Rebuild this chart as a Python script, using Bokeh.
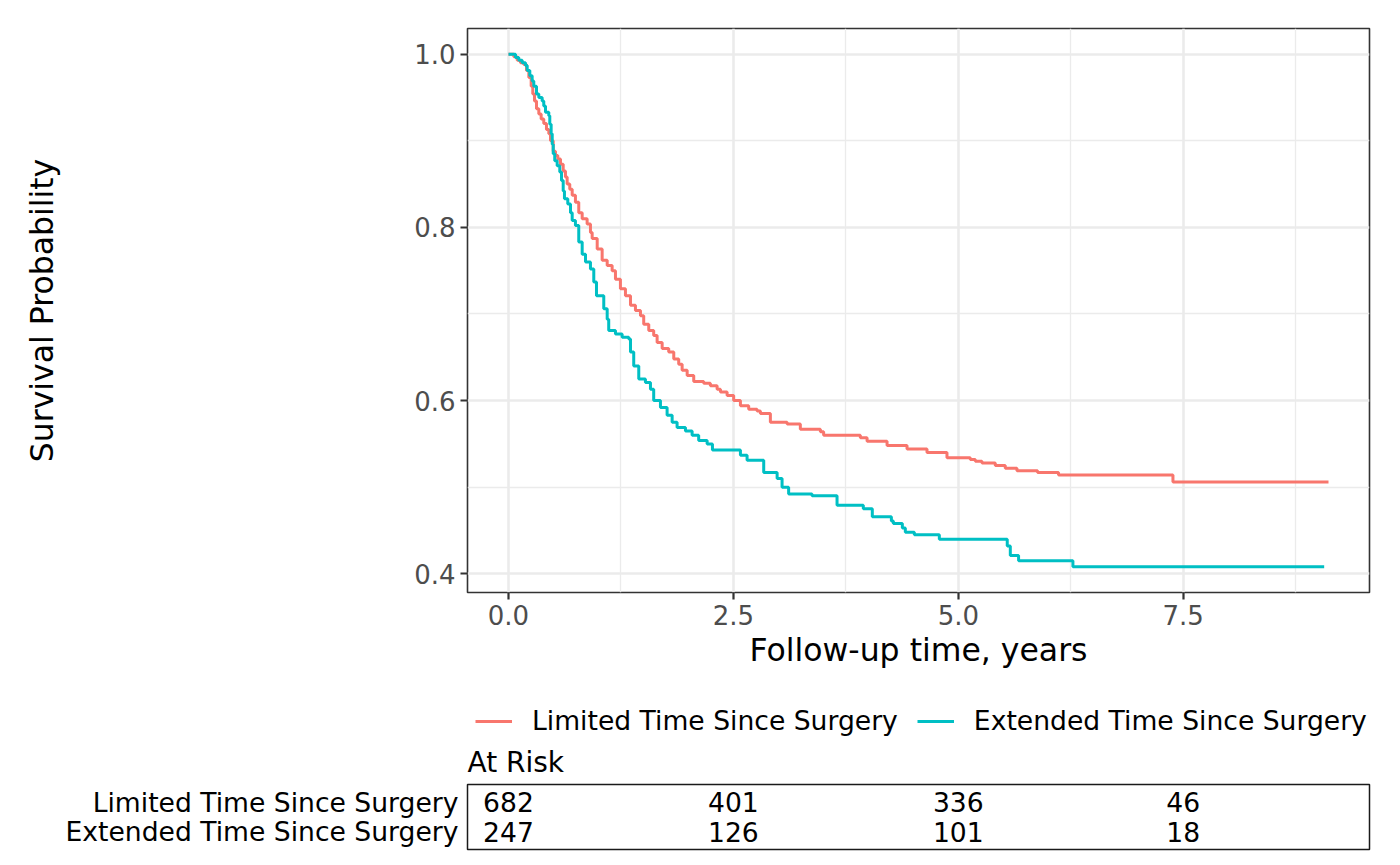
from bokeh.plotting import figure
from bokeh.models import (Range1d, FactorRange, FixedTicker, NumeralTickFormatter,
                          Legend, LegendItem, ColumnDataSource)
from bokeh.layouts import column
from bokeh.core.properties import value
from bokeh.embed import file_html
from bokeh.resources import INLINE

FONT = "DejaVu Sans"

# ---- Kaplan-Meier estimates (years, survival) ----
limited_time = [0.0, 0.059, 0.097, 0.133, 0.170, 0.200, 0.226, 0.252, 0.270, 0.289,
                0.311, 0.337, 0.363, 0.392, 0.422, 0.448, 0.467, 0.497, 0.522, 0.548,
                0.578, 0.608, 0.633, 0.652, 0.681, 0.708, 0.744, 0.781, 0.819, 0.874,
                0.911, 0.930, 0.986, 1.041, 1.097, 1.152, 1.189, 1.244, 1.300, 1.356,
                1.411, 1.467, 1.503, 1.559, 1.614, 1.652, 1.708, 1.781, 1.837, 1.892,
                1.930, 1.986, 2.059, 2.170, 2.244, 2.319, 2.356, 2.430, 2.503, 2.578,
                2.670, 2.763, 2.800, 2.911, 3.097, 3.244, 3.467, 3.503, 3.911, 3.986,
                4.208, 4.430, 4.652, 4.874, 5.133, 5.189, 5.263, 5.411, 5.522, 5.652,
                5.881, 6.114, 7.386, 9.115]
limited_surv = [1.000, 0.997, 0.993, 0.990, 0.988, 0.981, 0.973, 0.963, 0.954, 0.946,
                0.937, 0.931, 0.925, 0.920, 0.913, 0.908, 0.900, 0.888, 0.883, 0.879,
                0.873, 0.865, 0.858, 0.850, 0.844, 0.837, 0.829, 0.817, 0.810, 0.804,
                0.794, 0.787, 0.775, 0.762, 0.756, 0.750, 0.740, 0.729, 0.721, 0.710,
                0.704, 0.698, 0.688, 0.681, 0.675, 0.667, 0.660, 0.656, 0.648, 0.642,
                0.635, 0.629, 0.622, 0.620, 0.617, 0.613, 0.610, 0.606, 0.600, 0.594,
                0.590, 0.588, 0.585, 0.575, 0.573, 0.567, 0.564, 0.560, 0.557, 0.553,
                0.548, 0.544, 0.540, 0.534, 0.532, 0.530, 0.528, 0.525, 0.522, 0.519,
                0.517, 0.514, 0.506, 0.506]

extended_time = [0.0, 0.078, 0.114, 0.152, 0.189, 0.208, 0.237, 0.263, 0.281, 0.311,
                 0.337, 0.374, 0.392, 0.411, 0.448, 0.459, 0.474, 0.486, 0.497, 0.514,
                 0.541, 0.570, 0.589, 0.608, 0.622, 0.659, 0.689, 0.708, 0.744, 0.781,
                 0.819, 0.856, 0.911, 0.948, 0.978, 1.059, 1.097, 1.114, 1.189, 1.263,
                 1.337, 1.356, 1.392, 1.448, 1.522, 1.578, 1.614, 1.689, 1.763, 1.819,
                 1.874, 1.967, 2.041, 2.114, 2.208, 2.267, 2.578, 2.652, 2.837, 2.986,
                 3.041, 3.114, 3.374, 3.652, 3.944, 4.044, 4.256, 4.278, 4.378, 4.411,
                 4.511, 4.789, 5.544, 5.578, 5.670, 6.274, 9.067]
extended_surv = [1.000, 0.996, 0.993, 0.990, 0.987, 0.981, 0.975, 0.969, 0.963, 0.954,
                 0.950, 0.946, 0.940, 0.933, 0.929, 0.919, 0.908, 0.896, 0.885, 0.877,
                 0.871, 0.864, 0.854, 0.842, 0.833, 0.827, 0.817, 0.808, 0.802, 0.783,
                 0.769, 0.760, 0.752, 0.737, 0.721, 0.706, 0.694, 0.681, 0.677, 0.673,
                 0.671, 0.656, 0.640, 0.625, 0.621, 0.613, 0.600, 0.592, 0.583, 0.575,
                 0.569, 0.565, 0.560, 0.554, 0.550, 0.543, 0.537, 0.531, 0.517, 0.510,
                 0.500, 0.492, 0.490, 0.479, 0.475, 0.466, 0.461, 0.458, 0.453, 0.448,
                 0.445, 0.440, 0.432, 0.421, 0.415, 0.408, 0.408]

groups = ["Limited Time Since Surgery", "Extended Time Since Surgery"]
colors = ["#F8766D", "#00BFC4"]

# ---- risk table ----
risk_times = [0.0, 2.5, 5.0, 7.5]
limited_at_risk = [682, 401, 336, 46]
extended_at_risk = [247, 126, 101, 18]

# ---- axes ----
x_ticks = [0.0, 2.5, 5.0, 7.5]
x_minor = [1.25, 3.75, 6.25, 8.75]
y_ticks = [0.4, 0.6, 0.8, 1.0]
y_minor = [0.5, 0.7, 0.9]
x_title = "Follow-up time, years"
y_title = "Survival Probability"
table_title = "At Risk"

# ggplot-like 5% expansion of the data range
xmax = max(max(limited_time), max(extended_time))
xmin = 0.0
xpad = 0.05 * (xmax - xmin)
ymin = min(min(limited_surv), min(extended_surv))
ymax = max(max(limited_surv), max(extended_surv))
ypad = 0.05 * (ymax - ymin)
xr = Range1d(xmin - xpad, xmax + xpad)
yr = Range1d(ymin - ypad, ymax + ypad)

W = 1392
LEFT = 467
RIGHT = 23
TICK_FS = "26px"
TEXT_FS = "26.6px"

# ================= main survival plot =================
p1 = figure(width=W, height=680, x_range=xr, y_range=yr,
            output_backend="svg", toolbar_location=None, title_location=None,
            min_border_left=LEFT, min_border_right=RIGHT,
            min_border_top=28, min_border_bottom=88)
p1.background_fill_color = "white"
p1.border_fill_color = "white"
p1.outline_line_color = "#333333"
p1.outline_line_width = 1.6

p1.xaxis.ticker = FixedTicker(ticks=x_ticks, minor_ticks=x_minor)
p1.yaxis.ticker = FixedTicker(ticks=y_ticks, minor_ticks=y_minor)
p1.xaxis.formatter = NumeralTickFormatter(format="0.0")
p1.yaxis.formatter = NumeralTickFormatter(format="0.0")

for ax in (p1.xaxis, p1.yaxis):
    ax.axis_line_color = None
    ax.major_tick_in = 0
    ax.major_tick_out = 7
    ax.major_tick_line_color = "#333333"
    ax.major_tick_line_width = 2.2
    ax.minor_tick_line_color = None
    ax.major_label_text_font = FONT
    ax.major_label_text_font_size = TICK_FS
    ax.major_label_text_color = "#4D4D4D"
    ax.axis_label_text_font = FONT
    ax.axis_label_text_font_size = "31.5px"
    ax.axis_label_text_font_style = "normal"
    ax.axis_label_text_color = "black"

p1.xaxis.axis_label = x_title
p1.xaxis.major_label_standoff = 5
p1.xaxis.axis_label_standoff = 4
p1.yaxis.axis_label = y_title
p1.yaxis.major_label_standoff = 5
p1.yaxis.axis_label_standoff = 351

p1.grid.grid_line_color = "#EBEBEB"
p1.grid.grid_line_width = 2.6
p1.grid.minor_grid_line_color = "#EBEBEB"
p1.grid.minor_grid_line_width = 1.3

p1.step(limited_time, limited_surv, mode="after", line_color=colors[0], line_width=3)
p1.step(extended_time, extended_surv, mode="after", line_color=colors[1], line_width=3)

# ================= legend strip =================
pl = figure(width=W, height=56, x_range=xr, y_range=Range1d(0, 1),
            output_backend="svg", toolbar_location=None, title_location=None,
            x_axis_location=None, y_axis_location=None,
            min_border_left=LEFT, min_border_right=RIGHT,
            min_border_top=0, min_border_bottom=0)
pl.outline_line_color = None
pl.grid.visible = False
pl.background_fill_color = "white"
pl.border_fill_color = "white"
# key renderers: same series, drawn below the strip's visible y range
k_lim = pl.line(x=limited_time, y=[-5.0] * len(limited_time),
                line_color=colors[0], line_width=3)
k_ext = pl.line(x=extended_time, y=[-5.0] * len(extended_time),
                line_color=colors[1], line_width=3)
legend = Legend(items=[LegendItem(label=groups[0], renderers=[k_lim]),
                       LegendItem(label=groups[1], renderers=[k_ext])],
                orientation="horizontal", location=(8, 0),
                glyph_width=37, glyph_height=30, label_height=30,
                label_standoff=20, spacing=19, padding=0, margin=0,
                label_text_font=FONT, label_text_font_size=TEXT_FS,
                label_text_color="black",
                border_line_color=None, background_fill_alpha=0)
pl.add_layout(legend, "center")

# ================= risk table =================
table_y = FactorRange(factors=groups[::-1], range_padding=0.12,
                      range_padding_units="absolute")
p2 = figure(width=W, height=121, x_range=xr, y_range=table_y,
            output_backend="svg", toolbar_location=None,
            x_axis_location=None, title=table_title,
            min_border_left=LEFT, min_border_right=RIGHT,
            min_border_top=48, min_border_bottom=8)
p2.background_fill_color = "white"
p2.border_fill_color = "white"
p2.outline_line_color = "#1a1a1a"
p2.outline_line_width = 1.5
p2.grid.visible = False
p2.title.text_font = FONT
p2.title.text_font_size = "28px"
p2.title.text_font_style = "normal"
p2.title.text_color = "black"
p2.title.align = "left"
p2.title.standoff = 12
p2.title.offset = 0

p2.yaxis.axis_line_color = None
p2.yaxis.major_tick_in = 0
p2.yaxis.major_tick_out = 0
p2.yaxis.major_label_standoff = 9
p2.yaxis.major_label_text_font = FONT
p2.yaxis.major_label_text_font_size = TEXT_FS
p2.yaxis.major_label_text_color = "black"

tx, ty, tt = [], [], []
for g, counts in zip(groups, [limited_at_risk, extended_at_risk]):
    for t, n in zip(risk_times, counts):
        tx.append(t)
        ty.append(g)
        tt.append(str(n))
src = ColumnDataSource(dict(x=tx, y=ty, text=tt))
p2.text(x="x", y="y", text="text", source=src, text_align="center",
        text_baseline="middle", text_font=value(FONT), text_font_size=TEXT_FS,
        text_color="black")

layout = column(p1, pl, p2, spacing=0)
open("out.html", "w").write(file_html(layout, INLINE, title="Survival"))
